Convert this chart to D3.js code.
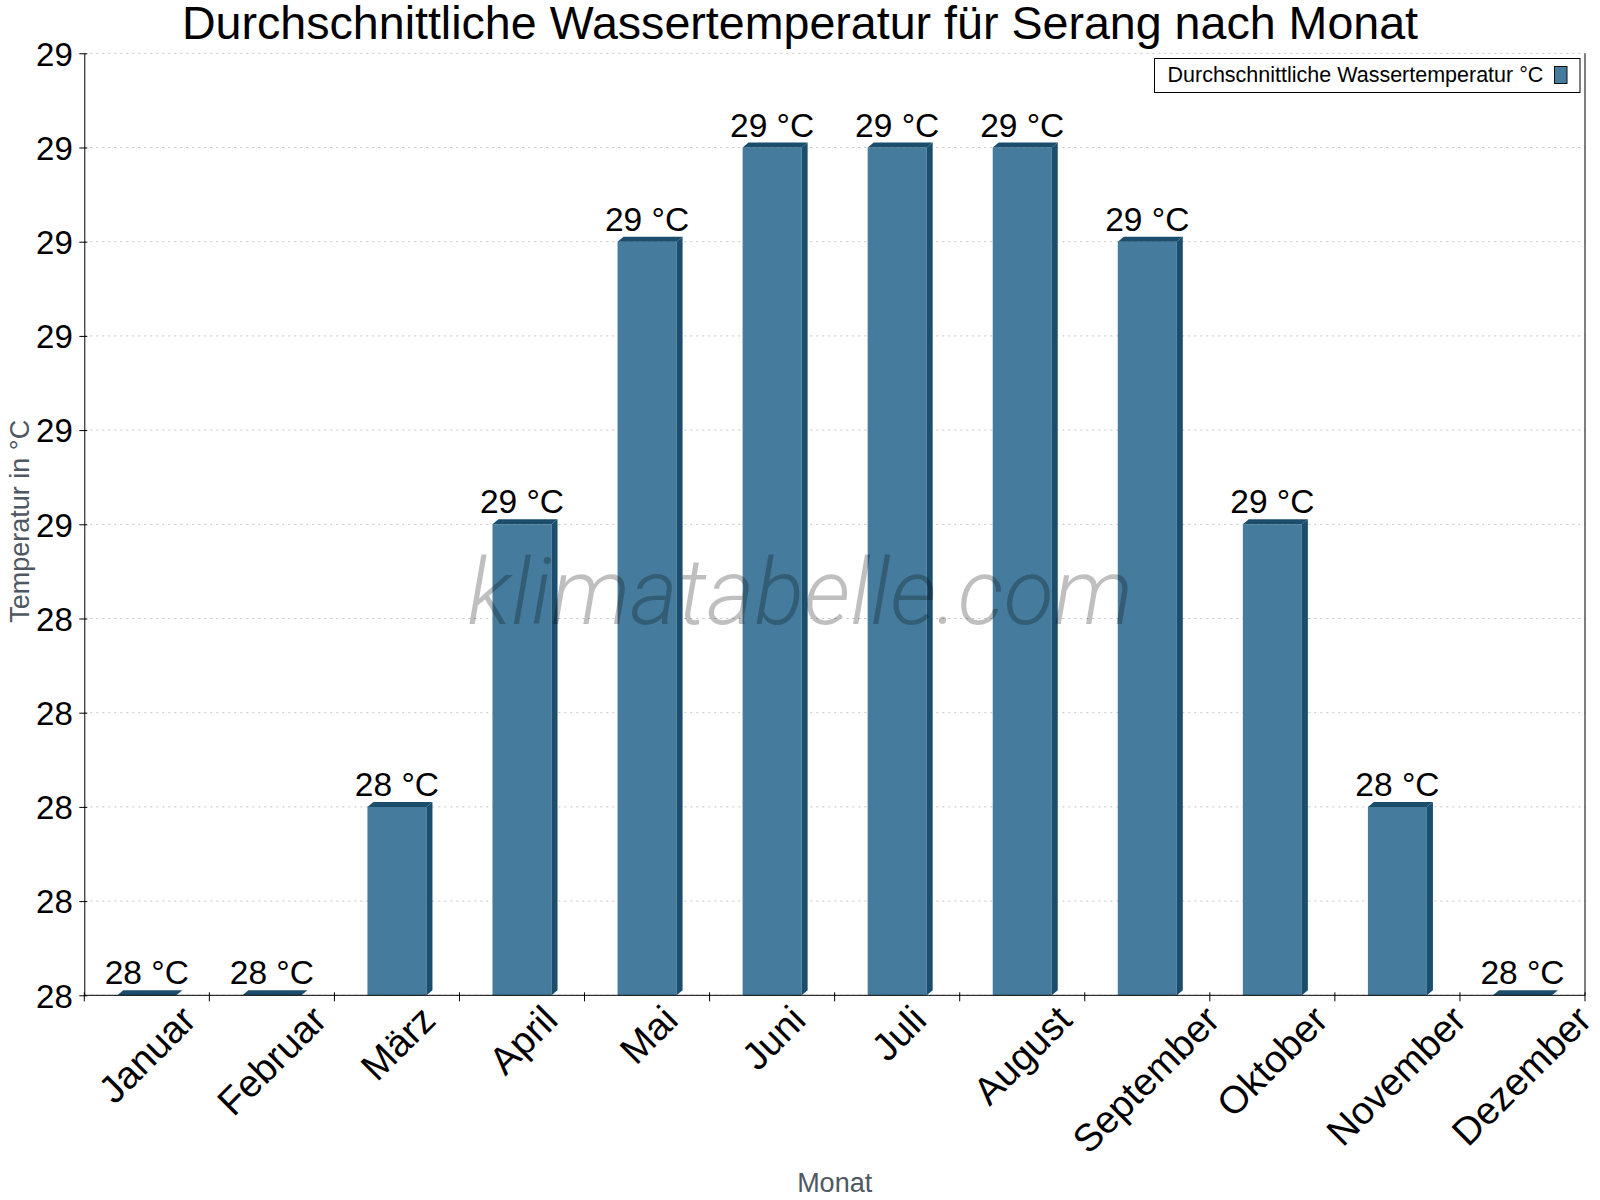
<!doctype html>
<html lang="de">
<head>
<meta charset="UTF-8">
<title>Wassertemperatur Serang</title>
<style>
  body { margin: 0; background: #fff; }
  svg { display: block; font-family: "Liberation Sans", Arial, sans-serif; }
</style>
</head>
<body>
<script src="https://cdn.jsdelivr.net/npm/d3@7/dist/d3.min.js"></script>
<script>
// data
var months = ["Januar", "Februar", "März", "April", "Mai", "Juni", "Juli",
              "August", "September", "Oktober", "November", "Dezember"];
var waterTemp = [28.0, 28.0, 28.2, 28.5, 28.8, 28.9, 28.9, 28.9, 28.8, 28.5, 28.2, 28.0];
var yTickValues = [28.0, 28.1, 28.2, 28.3, 28.4, 28.5, 28.6, 28.7, 28.8, 28.9, 29.0];
var seriesName = "Durchschnittliche Wassertemperatur °C";

var WIDTH = 1600, HEIGHT = 1200;
// plot area (note: "top" is a reserved window prop, so prefix everything)
var plotL = 84.3, plotR = 1585, plotT = 53.3, plotB = 995.3;
var front = "#457b9d", dark = "#1b4d6d";
var dx = 6, dy = 5; // depth of the fake 3d bars

var svg = d3.select("body").append("svg")
  .attr("width", WIDTH).attr("height", HEIGHT);
svg.append("rect").attr("width", WIDTH).attr("height", HEIGHT).attr("fill", "#fff");

// scales
var xBand = d3.scaleBand().domain(months).range([plotL, plotR]); // ticks + labels
var xBar = d3.scaleBand().domain(months).range([plotL, plotR])
  .paddingInner(0.528).paddingOuter(0.264);
var y = d3.scaleLinear().domain([28, 29]).range([plotB, plotT]);

// grid lines
svg.append("g").selectAll("line")
  .data(yTickValues)
  .enter().append("line")
  .attr("x1", plotL).attr("x2", plotR)
  .attr("y1", function(d) { return y(d); })
  .attr("y2", function(d) { return y(d); })
  .attr("stroke", "#c4c4c4")
  .attr("stroke-dasharray", "2,4");

// y axis
var yAxis = d3.axisLeft(y).tickValues(yTickValues)
  .tickFormat(function(d) { return Math.round(d); })
  .tickSizeInner(5).tickSizeOuter(0).tickPadding(6);
var gy = svg.append("g").attr("transform", "translate(" + plotL + ",0)").call(yAxis);
gy.select(".domain").attr("stroke", "#000");
gy.selectAll(".tick line").attr("x2", -5).attr("x1", 3).attr("stroke", "#000");
gy.selectAll(".tick text")
  .attr("font-size", 33).attr("fill", "#000")
  .attr("font-family", "Liberation Sans, Arial, sans-serif")
  .attr("dy", "0.36em").attr("x", -11.5);

// right border
svg.append("line")
  .attr("x1", plotR).attr("x2", plotR).attr("y1", plotT).attr("y2", plotB)
  .attr("stroke", "#000");

// bars
var bars = svg.append("g").selectAll("g")
  .data(waterTemp)
  .enter().append("g");

bars.append("rect")
  .attr("x", function(d, i) { return xBar(months[i]); })
  .attr("y", function(d) { return y(d); })
  .attr("width", xBar.bandwidth())
  .attr("height", function(d) { return plotB - y(d); })
  .attr("fill", front);

// top face
bars.append("path")
  .attr("fill", dark)
  .attr("d", function(d, i) {
    var x0 = xBar(months[i]), x1 = x0 + xBar.bandwidth(), yt = y(d);
    return "M" + x0 + "," + yt + "L" + (x0 + dx) + "," + (yt - dy) +
      "L" + (x1 + dx) + "," + (yt - dy) + "L" + x1 + "," + yt + "Z";
  });

// side face
bars.append("path")
  .attr("fill", dark)
  .attr("d", function(d, i) {
    var x1 = xBar(months[i]) + xBar.bandwidth(), yt = y(d);
    if (plotB - yt < dy) return null;
    return "M" + x1 + "," + yt + "L" + (x1 + dx) + "," + (yt - dy) +
      "L" + (x1 + dx) + "," + (plotB - dy) + "L" + x1 + "," + plotB + "Z";
  });

// value labels
bars.append("text")
  .attr("x", function(d, i) { return xBand(months[i]) + xBand.bandwidth() / 2; })
  .attr("y", function(d) { return y(d) - 11; })
  .attr("text-anchor", "middle")
  .attr("font-size", 33.5)
  .attr("fill", "#000")
  .text(function(d) { return Math.round(d) + " °C"; });

// x axis line + ticks on band edges
svg.append("line")
  .attr("x1", plotL).attr("x2", plotR).attr("y1", plotB).attr("y2", plotB)
  .attr("stroke", "#000");
svg.append("g").selectAll("line")
  .data(months.concat(["_end"]))
  .enter().append("line")
  .attr("x1", function(d) { return d === "_end" ? plotR : xBand(d); })
  .attr("x2", function(d) { return d === "_end" ? plotR : xBand(d); })
  .attr("y1", plotB - 3).attr("y2", plotB + 6)
  .attr("stroke", "#000");

// month labels, rotated 45deg, end point shifted right by text length
var xl = svg.append("g").selectAll("text")
  .data(months)
  .enter().append("text")
  .attr("text-anchor", "end")
  .attr("font-size", 38.5)
  .attr("fill", "#000")
  .text(function(d) { return d; });
xl.attr("transform", function(d) {
  var len = this.getComputedTextLength();
  var cx = xBand(d) + xBand.bandwidth() / 2;
  var ax = cx + 0.33 * len + 12.4;
  return "translate(" + ax + "," + (plotB + 27) + ") rotate(-45)";
});

// watermark
svg.append("text")
  .attr("x", 800).attr("y", 624)
  .attr("text-anchor", "middle")
  .attr("font-family", "Roboto, sans-serif")
  .attr("font-weight", 300)
  .attr("font-style", "italic")
  .attr("font-size", 92)
  .attr("fill", "#000")
  .attr("fill-opacity", 0.25)
  .text("klimatabelle.com");

// title
svg.append("text")
  .attr("x", 800).attr("y", 39)
  .attr("text-anchor", "middle")
  .attr("font-size", 46.6)
  .attr("fill", "#000")
  .text("Durchschnittliche Wassertemperatur für Serang nach Monat");

// axis titles
svg.append("text")
  .attr("transform", "translate(29," + ((plotT + plotB) / 2 - 3) + ") rotate(-90)")
  .attr("text-anchor", "middle")
  .attr("font-size", 27)
  .attr("fill", "#4f5862")
  .text("Temperatur in °C");
svg.append("text")
  .attr("x", (plotL + plotR) / 2).attr("y", 1192)
  .attr("text-anchor", "middle")
  .attr("font-size", 27)
  .attr("fill", "#4f5862")
  .text("Monat");

// legend
var legend = svg.append("g");
legend.append("rect")
  .attr("x", 1154.5).attr("y", 58.5).attr("width", 425.5).attr("height", 34)
  .attr("fill", "#fff").attr("stroke", "#000");
legend.append("text")
  .attr("x", 1167.5).attr("y", 82.3)
  .attr("font-size", 21.5).attr("fill", "#000")
  .text(seriesName);
legend.append("rect")
  .attr("x", 1554.5).attr("y", 66.5).attr("width", 12.5).attr("height", 17)
  .attr("fill", front).attr("stroke", "#111");
</script>
</body>
</html>
